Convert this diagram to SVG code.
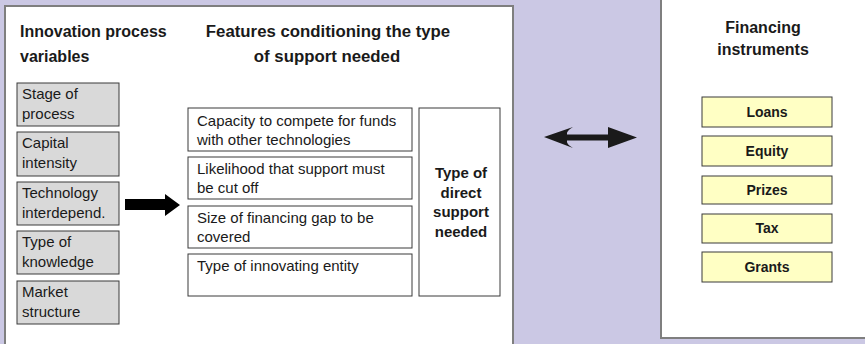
<svg xmlns="http://www.w3.org/2000/svg" width="865" height="344" viewBox="0 0 865 344">
<style>
.panel{fill:#ffffff;stroke:#7f7f7f;stroke-width:2}
.var{fill:#d9d9d9;stroke:#3a3a3a;stroke-width:1}
.feat{fill:#ffffff;stroke:#3a3a3a;stroke-width:1}
.inst{fill:#ffffc4;stroke:#3a3a3a;stroke-width:1}
text{font-family:"Liberation Sans",Arial,sans-serif;fill:#1a1a1a}
.h{font-size:16px;font-weight:bold}
.hf{font-size:16.8px;font-weight:bold;text-anchor:middle}
.b{font-size:15px}
.bb{font-size:15px;font-weight:bold;text-anchor:middle}
.ib{font-size:14px;font-weight:bold;text-anchor:middle}
</style>
<rect width="865" height="344" fill="#cbc8e4"/>
<g id="panel-left">
<rect class="panel" x="5" y="6" width="508" height="350"/>
<text class="h" x="20" y="37">Innovation process</text>
<text class="h" x="20" y="62">variables</text>
<text class="hf" x="328" y="37">Features conditioning the type</text>
<text class="hf" x="327" y="62">of support needed</text>
</g>
<g id="panel-right">
<rect class="panel" x="661" y="-5" width="215" height="343"/>
<text class="h" x="763" y="33" text-anchor="middle">Financing</text>
<text class="h" x="763" y="55" text-anchor="middle">instruments</text>
</g>
<g id="var-stage"><rect class="var" x="17" y="83" width="102" height="43"/><text class="b" x="22" y="99">Stage of</text><text class="b" x="22" y="119">process</text></g>
<g id="var-capital"><rect class="var" x="17" y="132" width="102" height="44"/><text class="b" x="22" y="148">Capital</text><text class="b" x="22" y="168">intensity</text></g>
<g id="var-tech"><rect class="var" x="17" y="182" width="102" height="43"/><text class="b" x="22" y="198">Technology</text><text class="b" x="22" y="218">interdepend.</text></g>
<g id="var-knowledge"><rect class="var" x="17" y="231" width="102" height="43"/><text class="b" x="22" y="247">Type of</text><text class="b" x="22" y="267">knowledge</text></g>
<g id="var-market"><rect class="var" x="17" y="281" width="102" height="43"/><text class="b" x="22" y="297">Market</text><text class="b" x="22" y="317">structure</text></g>
<g id="feat-capacity"><rect class="feat" x="188" y="108" width="224" height="43"/><text class="b" x="197" y="126">Capacity to compete for funds</text><text class="b" x="197" y="145">with other technologies</text></g>
<g id="feat-likelihood"><rect class="feat" x="188" y="157" width="224" height="42"/><text class="b" x="197" y="174">Likelihood that support must</text><text class="b" x="197" y="193">be cut off</text></g>
<g id="feat-gap"><rect class="feat" x="188" y="206" width="224" height="42"/><text class="b" x="197" y="223">Size of financing gap to be</text><text class="b" x="197" y="242">covered</text></g>
<g id="feat-entity"><rect class="feat" x="188" y="254" width="224" height="42"/><text class="b" x="197" y="271">Type of innovating entity</text></g>
<g id="support-type"><rect class="feat" x="419" y="108" width="81" height="188"/>
<text class="bb" x="461" y="178">Type of</text><text class="bb" x="461" y="198">direct</text><text class="bb" x="461" y="217">support</text><text class="bb" x="461" y="237">needed</text></g>
<g id="inst-loans"><rect class="inst" x="702" y="97" width="130" height="30"/><text class="ib" x="767" y="117">Loans</text></g>
<g id="inst-equity"><rect class="inst" x="702" y="136" width="130" height="30"/><text class="ib" x="767" y="156">Equity</text></g>
<g id="inst-prizes"><rect class="inst" x="702" y="176" width="130" height="28"/><text class="ib" x="767" y="195">Prizes</text></g>
<g id="inst-tax"><rect class="inst" x="702" y="214" width="130" height="29"/><text class="ib" x="767" y="233">Tax</text></g>
<g id="inst-grants"><rect class="inst" x="702" y="252" width="130" height="30"/><text class="ib" x="767" y="272">Grants</text></g>
<g id="connectors">
<path d="M125,199 H165 V194 L180,205 L165,216 V210 H125 Z" fill="#000000"/>
<path d="M544,137 L573,127 Q566,131 567,134.5 H608 V127 L637,137.5 L608,148 V140.5 H567 Q566,144 573,148 Z" fill="#1a1a1a"/>
</g>
</svg>
